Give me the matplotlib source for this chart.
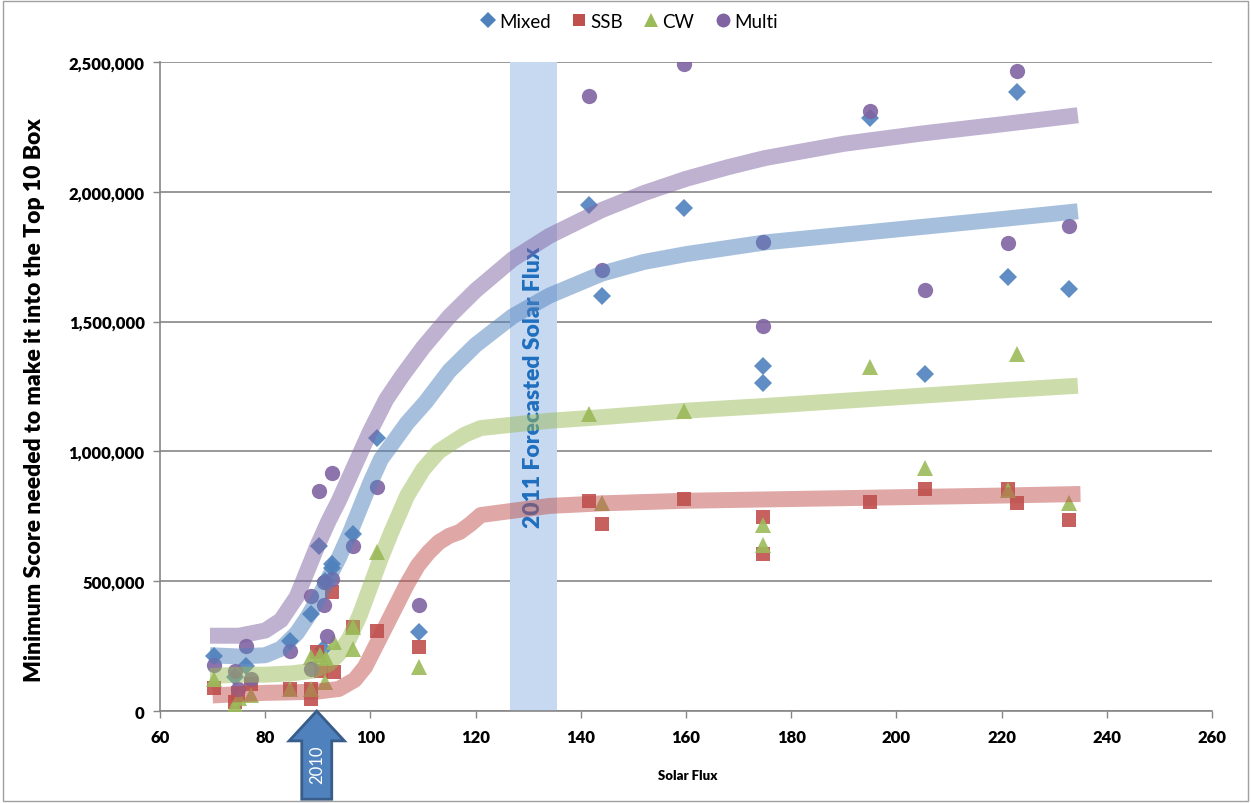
import matplotlib
matplotlib.use('Agg')
import matplotlib.pyplot as plt
from matplotlib.patches import FancyArrow, Rectangle
from matplotlib.ticker import FuncFormatter
from matplotlib.lines import Line2D

# scatter data (solar flux, minimum score)
MIXED_X = [70.3, 74.3, 76.3, 84.7, 88.8, 90.3, 91.05, 91.3, 92.75, 92.75, 96.75, 101.25, 109.2,
           141.6, 144.1, 159.6, 174.6, 174.6, 195.0, 205.5, 221.3, 222.9, 232.8]
MIXED_Y = [211000, 130000, 172000, 268000, 372000, 637000, 238000, 500000, 566000, 551000, 681000, 1050000, 305000,
           1950000, 1597000, 1937000, 1328000, 1263000, 2285000, 1300000, 1672000, 2384000, 1624000]

SSB_X = [70.3, 74.3, 74.9, 77.3, 84.7, 88.8, 88.8, 89.8, 90.7, 93.0, 92.75, 96.75, 101.25, 109.2,
         141.6, 144.1, 159.6, 174.6, 174.6, 195.0, 205.5, 221.3, 222.9, 232.8]
SSB_Y = [90000, 35000, 70000, 105000, 85000, 85000, 45000, 226000, 155000, 150000, 457000, 322000, 309000, 248000,
         810000, 722000, 818000, 748000, 603000, 805000, 857000, 855000, 803000, 735000]

CW_X = [70.3, 74.3, 75.0, 77.3, 84.7, 88.8, 88.8, 90.5, 91.5, 91.4, 93.0, 96.75, 96.75, 101.25, 109.2,
        141.6, 144.1, 159.6, 174.6, 174.6, 195.0, 205.5, 221.3, 222.9, 232.8]
CW_Y = [123000, 22000, 50000, 63000, 85000, 85000, 210000, 215000, 205000, 112000, 265000, 239000, 322000, 611000, 168000,
        1143000, 800000, 1155000, 715000, 640000, 1326000, 936000, 850000, 1377000, 800000]

MULTI_X = [70.3, 74.3, 74.9, 76.35, 77.3, 84.7, 88.8, 88.8, 90.3, 91.2, 91.25, 91.7, 92.75, 92.7, 96.75, 101.25, 109.2,
           141.6, 144.1, 159.6, 174.6, 174.6, 195.0, 205.5, 221.3, 222.9, 232.8]
MULTI_Y = [178000, 155000, 85000, 249000, 123000, 230000, 444000, 160000, 846000, 497000, 410000, 288000, 916000, 508000,
           634000, 862000, 410000,
           2368000, 1700000, 2492000, 1805000, 1484000, 2312000, 1623000, 1802000, 2467000, 1869000]

# hand-drawn trend bands (millions)
MULTI_TX = [69.5, 75, 80, 83, 86, 88, 90, 92, 94, 96, 98, 100, 103, 106, 110, 115, 120, 127, 134, 144,
            152, 160, 168, 175, 190, 205, 220, 234.5]
MULTI_TY = [0.29, 0.29, 0.31, 0.35, 0.44, 0.54, 0.64, 0.73, 0.81, 0.90, 0.99, 1.08, 1.20, 1.29, 1.40, 1.52,
            1.62, 1.74, 1.83, 1.93, 1.995, 2.05, 2.095, 2.13, 2.185, 2.225, 2.26, 2.295]
MIXED_TX = [69.5, 75, 80, 83, 86, 88, 90, 92, 94, 96, 98, 100, 102, 104.5, 107, 110.5, 115, 120, 127, 134,
            144, 152, 160, 175, 190, 205, 220, 234.5]
MIXED_TY = [0.215, 0.21, 0.215, 0.24, 0.30, 0.36, 0.43, 0.51, 0.59, 0.68, 0.78, 0.88, 0.97, 1.04, 1.11, 1.19,
            1.31, 1.41, 1.52, 1.60, 1.685, 1.73, 1.76, 1.805, 1.835, 1.865, 1.895, 1.925]
CW_TX = [69.5, 75, 80, 85, 89, 92, 94, 96, 98, 100, 102, 104, 107, 110, 113, 116, 118, 121, 134, 144,
         160, 175, 190, 205, 220, 234.5]
CW_TY = [0.135, 0.14, 0.14, 0.145, 0.155, 0.18, 0.22, 0.28, 0.37, 0.48, 0.59, 0.69, 0.83, 0.93, 1.00, 1.04,
         1.065, 1.09, 1.118, 1.132, 1.157, 1.175, 1.195, 1.215, 1.235, 1.253]
SSB_TX = [70, 75, 80, 85, 90, 94, 97, 99, 101, 103, 105, 107, 109, 111, 113, 115, 117, 119, 121, 134,
          144, 160, 175, 190, 205, 220, 235]
SSB_TY = [0.06, 0.065, 0.07, 0.072, 0.075, 0.085, 0.12, 0.17, 0.25, 0.33, 0.41, 0.49, 0.56, 0.61, 0.65, 0.675,
          0.69, 0.72, 0.755, 0.79, 0.80, 0.81, 0.815, 0.82, 0.825, 0.83, 0.836]

FORECAST_LO, FORECAST_HI = 126.5, 135.5
YEAR_2010 = 89.8

X_TICKS = list(range(60, 261, 20))
Y_TICKS = list(range(0, 2500001, 500000))

BLUE   = '#4F81BD'
RED    = '#C0504D'
GREEN  = '#9BBB59'
PURPLE = '#8064A2'

plt.rcParams['font.family'] = ['Lato', 'DejaVu Sans']

fig = plt.figure(figsize=(12.51, 8.04), dpi=100)
ax = fig.add_axes([0.1279, 0.1144, 0.8409, 0.8072])

# forecast band + label
ax.axvspan(FORECAST_LO, FORECAST_HI, ymin=0, ymax=1, color='#C6D9F1', zorder=1, lw=0)
ax.text((FORECAST_LO + FORECAST_HI) / 2, 1.25e6, '2011 Forecasted Solar Flux', rotation=90,
        ha='center', va='center', fontsize=16.5, fontweight='heavy', color='#1F6FBF', zorder=2)

# scatter series
mk = dict(linestyle='none', alpha=0.9, markeredgewidth=0, zorder=3)
ax.plot(MIXED_X, MIXED_Y, marker='D', ms=9, color=BLUE, **mk)
ax.plot(SSB_X, SSB_Y, marker='s', ms=10, color=RED, **mk)
ax.plot(CW_X, CW_Y, marker='^', ms=11, color=GREEN, **mk)
ax.plot(MULTI_X, MULTI_Y, marker='o', ms=11, color=PURPLE, **mk)

# trend bands
band = dict(lw=11.5, alpha=0.5, solid_capstyle='butt', solid_joinstyle='round', zorder=4)
ax.plot(MULTI_TX, [v * 1e6 for v in MULTI_TY], color=PURPLE, **band)
ax.plot(MIXED_TX, [v * 1e6 for v in MIXED_TY], color=BLUE, **band)
ax.plot(CW_TX, [v * 1e6 for v in CW_TY], color=GREEN, **band)
ax.plot(SSB_TX, [v * 1e6 for v in SSB_TY], color=RED, **band)

ax.set_xlim(60, 260)
ax.set_ylim(0, 2500000)
ax.set_xticks(X_TICKS)
ax.set_yticks(Y_TICKS)
ax.yaxis.set_major_formatter(FuncFormatter(lambda v, p: f'{int(v):,}'))
for lbl in ax.get_xticklabels() + ax.get_yticklabels():
    lbl.set_fontweight('heavy')
ax.tick_params(axis='both', labelsize=12, color='#868686', length=5, width=1)
ax.tick_params(axis='x', pad=8)
ax.tick_params(axis='y', pad=6)
ax.grid(True, axis='y', color='#868686', lw=1.2)
ax.set_axisbelow(True)
for s in ('top', 'right'):
    ax.spines[s].set_visible(False)
for s in ('left', 'bottom'):
    ax.spines[s].set_color('#868686')
    ax.spines[s].set_linewidth(1.2)

ax.set_ylabel('Minimum Score needed to make it into the Top 10 Box', fontsize=16.5, fontweight='heavy')
ax.yaxis.set_label_coords(-0.109, 0.48)
ax.set_xlabel('Solar Flux', fontsize=9.5, fontweight='heavy')
ax.xaxis.set_label_coords(0.502, -0.089)

# 2010 arrow under the axis
arr = FancyArrow(YEAR_2010, -0.34e6, 0, 0.34e6, width=5.7, head_width=10.5, head_length=0.115e6,
                 length_includes_head=True, facecolor=BLUE, edgecolor='#385D8A', lw=2,
                 clip_on=False, zorder=6)
ax.add_patch(arr)
ax.text(YEAR_2010, -0.205e6, '2010', rotation=90, ha='center', va='center', color='white',
        fontsize=12, clip_on=False, zorder=7)

handles = [
    Line2D([], [], marker='D', ls='none', color=BLUE, ms=8, mew=0, label='Mixed'),
    Line2D([], [], marker='s', ls='none', color=RED, ms=9, mew=0, label='SSB'),
    Line2D([], [], marker='^', ls='none', color=GREEN, ms=10, mew=0, label='CW'),
    Line2D([], [], marker='o', ls='none', color=PURPLE, ms=10, mew=0, label='Multi'),
]
fig.legend(handles=handles, loc='center', bbox_to_anchor=(0.502, 0.972), ncol=4, frameon=False,
           fontsize=13.5, handletextpad=0.1, columnspacing=1.0, handlelength=1.0)

fig.patches.append(Rectangle((0.002, 0.002), 0.996, 0.996, transform=fig.transFigure,
                             fill=False, edgecolor='#A0A0A0', lw=1))

fig.savefig('out.png', dpi=100)
